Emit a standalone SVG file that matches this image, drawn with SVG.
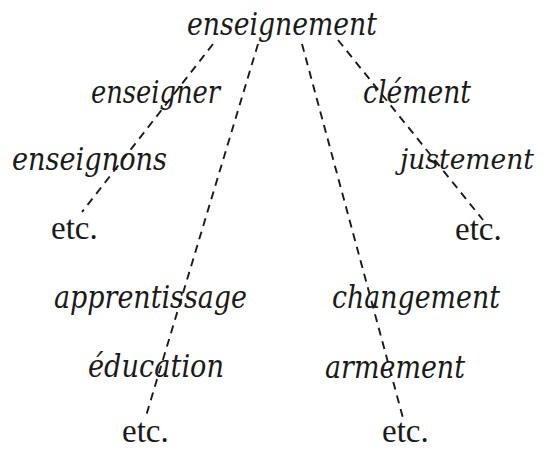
<svg xmlns="http://www.w3.org/2000/svg" width="544" height="450" viewBox="0 0 544 450">
<style>
.w{font-family:"DejaVu Serif","Liberation Serif",serif;font-style:italic;font-size:31px;fill:#1a1a1a}
.e{font-family:"Liberation Serif","Times New Roman",serif;font-size:33px;fill:#1a1a1a}
.c{fill:none;stroke:#1a1a1a;stroke-width:1.9;stroke-dasharray:8 6}
</style>
<rect width="544" height="450" fill="#ffffff"/>
<g id="connectors">
<line class="c" x1="213" y1="44" x2="82" y2="212"/>
<line class="c" x1="258" y1="44" x2="146" y2="416"/>
<line class="c" x1="302" y1="44" x2="403" y2="418"/>
<line class="c" x1="338" y1="40" x2="483" y2="220"/>
</g>
<g id="n-enseignement"><text class="w" x="187" y="35" textLength="190" lengthAdjust="spacingAndGlyphs">enseignement</text></g>
<g id="n-enseigner"><text class="w" x="91" y="103" textLength="129" lengthAdjust="spacingAndGlyphs">enseigner</text></g>
<g id="n-enseignons"><text class="w" x="12" y="170" textLength="155" lengthAdjust="spacingAndGlyphs">enseignons</text></g>
<g id="n-etc1"><text class="e" x="51" y="239">etc.</text></g>
<g id="n-clement"><text class="w" x="363" y="103" textLength="108" lengthAdjust="spacingAndGlyphs">clément</text></g>
<g id="n-justement"><text class="w" x="400" y="169" style="font-size:28px" textLength="134" lengthAdjust="spacingAndGlyphs">justement</text></g>
<g id="n-etc2"><text class="e" x="455" y="240">etc.</text></g>
<g id="n-apprentissage"><text class="w" x="54" y="308" textLength="193" lengthAdjust="spacingAndGlyphs">apprentissage</text></g>
<g id="n-education"><text class="w" x="88" y="377" textLength="136" lengthAdjust="spacingAndGlyphs">éducation</text></g>
<g id="n-etc3"><text class="e" x="122" y="442">etc.</text></g>
<g id="n-changement"><text class="w" x="332" y="308" textLength="168" lengthAdjust="spacingAndGlyphs">changement</text></g>
<g id="n-armement"><text class="w" x="325" y="378" textLength="140" lengthAdjust="spacingAndGlyphs">armement</text></g>
<g id="n-etc4"><text class="e" x="382" y="442">etc.</text></g>
</svg>
